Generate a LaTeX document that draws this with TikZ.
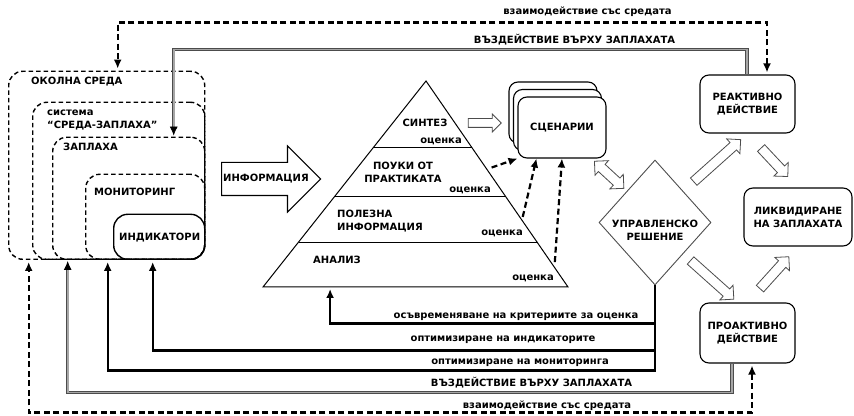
\documentclass[tikz,border=0pt]{standalone}
\usepackage{fontspec}
\setmainfont{DejaVu Sans}
\usetikzlibrary{arrows.meta,calc,shapes.geometric,shapes.arrows,shadows}

\tikzset{
  lbl/.style={font=\bfseries\fontsize{10}{13}\selectfont, inner sep=0pt},
  envbox/.style={draw, line width=1.4pt, dash pattern=on 4.5pt off 3pt,
    rounded corners=14pt, anchor=south west, inner sep=0pt},
  actbox/.style={draw, line width=1.1pt, rounded corners=9pt, fill=white},
  hollow/.style={single arrow, draw=black!70, fill=white, line width=0.8pt,
    inner xsep=0pt, inner ysep=4.5pt, single arrow head extend=5pt,
    minimum height=#1},
  hollow/.default=40pt,
  twohollow/.style={double arrow, draw=black!70, fill=white, line width=0.8pt,
    inner xsep=0pt, inner ysep=4.5pt, double arrow head extend=5pt,
    minimum height=#1},
  pyr/.style={line width=1pt},
  fb/.style={line width=2.2pt, shorten >=2pt, -{Latex[length=9pt,width=8pt]}},
  evalarrow/.style={line width=2.2pt, dash pattern=on 6pt off 3.5pt,
    -{Latex[length=9pt,width=8pt]}},
  envline/.style={line width=2.2pt, dash pattern=on 6pt off 3.5pt,
    shorten >=2pt, shorten <=2pt,
    {Latex[length=9pt,width=8pt]}-{Latex[length=9pt,width=8pt]}},
  threatline/.style={draw=black!70, double=black!35, double distance=1.8pt,
    line width=0.8pt, shorten >=1pt, -{Latex[length=9pt,width=8pt,color=black]}},
}

\begin{document}
\begin{tikzpicture}[x=1pt, y=1pt]
  \useasboundingbox (0,0) rectangle (854,415);

  % nested boxes on the left
  \node[envbox, minimum width=196pt, minimum height=188pt] (okolna) at (8,155) {};
  \node[envbox, minimum width=172pt, minimum height=157pt] (sistema) at (32,155) {};
  \node[envbox, minimum width=152pt, minimum height=122pt] (zaplaha) at (52,155) {};
  \node[envbox, minimum width=119pt, minimum height=85pt] (monitoring) at (85,155) {};
  \node[envbox, solid, minimum width=91pt, minimum height=45pt] (indikatori) at (113,155) {};
  \node[lbl, anchor=west] (okolnatxt) at (31,333) {ОКОЛНА СРЕДА};
  \node[lbl, anchor=west, align=left] (sistematxt) at (47,295) {система\\“СРЕДА-ЗАПЛАХА”};
  \node[lbl, anchor=west] (zaplahatxt) at (63,268) {ЗАПЛАХА};
  \node[lbl, anchor=west] (monitoringtxt) at (94,223) {МОНИТОРИНГ};
  \node[lbl, anchor=west] (indikatoritxt) at (119,177) {ИНДИКАТОРИ};

  % information arrow
  \node[single arrow, draw, line width=1.1pt, minimum height=99pt, inner xsep=0pt,
    inner ysep=16pt, single arrow head extend=16.5pt, anchor=tail] (infoarrow) at (221,236) {};
  \node[lbl] (infotxt) at (266,236) {ИНФОРМАЦИЯ};

  % pyramid
  \coordinate (apex) at (426,334);
  \coordinate (bl) at (263,128);
  \coordinate (br) at (568,128);
  \draw[pyr] (apex) -- (bl) -- (br) -- cycle;
  \foreach \t in {0.325,0.563,0.782}
    \draw[pyr] ($(apex)!\t!(bl)$) -- ($(apex)!\t!(br)$);
  \node[lbl] (synth) at (425,292) {СИНТЕЗ};
  \node[lbl] (eval1) at (441,274) {оценка};
  \node[lbl, align=center] (lessons) at (403,243) {ПОУКИ ОТ\\ПРАКТИКАТА};
  \node[lbl] (eval2) at (470,225) {оценка};
  \node[lbl, align=left, anchor=west] (useful) at (337,194) {ПОЛЕЗНА\\ИНФОРМАЦИЯ};
  \node[lbl] (eval3) at (502,182) {оценка};
  \node[lbl] (analysis) at (337,155) {АНАЛИЗ};
  \node[lbl] (eval4) at (533,137) {оценка};

  % scenarios, decision, actions
  \node[actbox, lbl, minimum width=88pt, minimum height=61pt,
    double copy shadow={shadow xshift=-4.5pt, shadow yshift=7.5pt, draw=black, fill=white, line width=1.1pt}]
    (scen) at (562,287.5) {СЦЕНАРИИ};
  \node[diamond, draw=black!70, line width=0.9pt, minimum width=112pt, minimum height=125pt,
    inner sep=0pt] (decision) at (655,192.5) {};
  \node[lbl, align=center] (decisiontxt) at (655,185) {УПРАВЛЕНСКО\\РЕШЕНИЕ};
  \node[actbox, lbl, minimum width=95pt, minimum height=58pt, align=center] (react) at (747.5,311) {РЕАКТИВНО\\ДЕЙСТВИЕ};
  \node[actbox, lbl, minimum width=108pt, minimum height=58pt, align=center] (liq) at (798,198) {ЛИКВИДИРАНЕ\\НА ЗАПЛАХАТА};
  \node[actbox, lbl, minimum width=95pt, minimum height=60pt, align=center] (proact) at (747.5,82) {ПРОАКТИВНО\\ДЕЙСТВИЕ};

  % hollow arrows
  \path (synth.east) -- node[hollow=33pt, inner ysep=4pt, single arrow head extend=4.5pt, sloped] {} (synth.east -| scen.west);
  \path ([xshift=-15pt]scen.south east) -- node[twohollow=40pt, sloped] {} (decision.north west);
  \path (decision.north east) -- node[hollow=63pt, sloped] {} (react.south);
  \path (decision.south east) -- node[hollow=58pt, sloped] {} ([xshift=-10pt]proact.north);
  \path (react.south) -- node[hollow=39pt, sloped] {} (liq.north);
  \path (proact.north) -- node[hollow=43pt, sloped] {} (liq.south);

  % evaluations to scenarios
  \coordinate (e1) at ($(apex)!0.42!(br)$);
  \coordinate (e2) at ($(apex)!0.66!(br)$);
  \coordinate (e3) at ($(apex)!0.879!(br)$);
  \draw[evalarrow] ([xshift=6pt]e1) -- (scen.south west);
  \draw[evalarrow] ([xshift=3pt]e2) -- ([xshift=19pt]scen.south west);
  \draw[evalarrow] ([xshift=4pt]e3) -- (scen.south);

  % feedback from the decision
  \coordinate (pbase) at ($(bl)!0.22!(br)$);
  \draw[fb] (decision.south) -- ++(0,-85) -| ([xshift=-37.5pt]monitoring.south);
  \draw[fb] ([yshift=-65pt]decision.south) -| ([xshift=-6.5pt]indikatori.south);
  \draw[fb] ([yshift=-38pt]decision.south) -| (pbase);
  \node[lbl] (update) at (516,98) {осъвременяване на критериите за оценка};
  \node[lbl] (optind) at (503,75) {оптимизиране на индикаторите};
  \node[lbl] (optmon) at (520,52) {оптимизиране на мониторинга};

  % impact on the threat
  \draw[threatline] ([xshift=-0.5pt]react.north) -- ++(0,25) -| ([xshift=45pt]zaplaha.north);
  \draw[threatline] ([xshift=-15.5pt]proact.south) -- ++(0,-29) -| ([xshift=-61pt]zaplaha.south);
  \node[lbl] (threattop) at (574.5,375) {ВЪЗДЕЙСТВИЕ ВЪРХУ ЗАПЛАХАТА};
  \node[lbl] (threatbot) at (531.5,32) {ВЪЗДЕЙСТВИЕ ВЪРХУ ЗАПЛАХАТА};

  % interaction with the environment
  \draw[envline] ([xshift=19.5pt]react.north) -- ++(0,52) -| ([xshift=11pt]okolna.north);
  \draw[envline] ([xshift=4.5pt]proact.south) -- ++(0,-49) -| ([xshift=-78pt]okolna.south);
  \node[lbl] (envtop) at (587.5,403) {взаимодействие със средата};
  \node[lbl] (envbot) at (547,9) {взаимодействие със средата};
\end{tikzpicture}
\end{document}
